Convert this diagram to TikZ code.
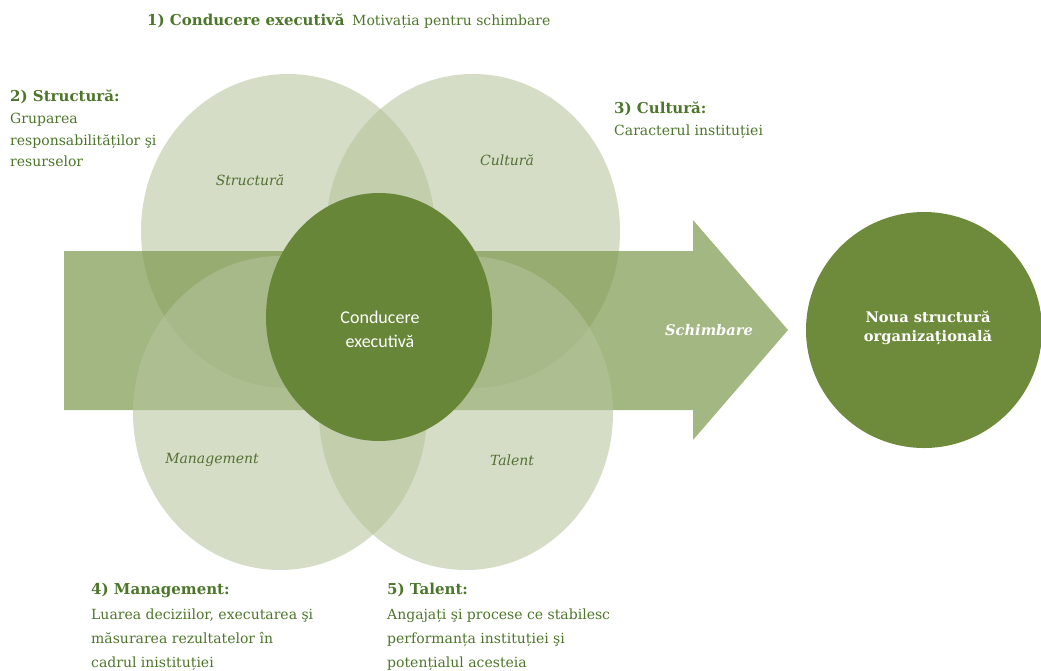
\documentclass[tikz,border=0pt]{standalone}
\usepackage{fontspec}
\setmainfont{DejaVu Serif}
\newfontfamily\calib{Carlito}
\usetikzlibrary{shapes.geometric}
\definecolor{txtg}{RGB}{76,118,42}
\definecolor{lblg}{RGB}{84,112,52}
\definecolor{lightc}{RGB}{181,195,155}
\definecolor{arrowc}{RGB}{124,152,78}
\definecolor{centerc}{RGB}{103,134,56}
\definecolor{rightc}{RGB}{110,139,60}
\tikzset{
  bigcirc/.style={ellipse, inner sep=0pt, minimum width=294pt, minimum height=314pt, fill=lightc, fill opacity=0.57},
  txt/.style={anchor=base west, inner sep=0pt, text=txtg, font=\fontsize{14}{18}\selectfont},
  hdr/.style={txt, font=\fontsize{15}{18}\selectfont\bfseries},
  clabel/.style={inner sep=0pt, text=lblg, font=\fontsize{14}{18}\selectfont\itshape},
  wlabel/.style={inner sep=0pt, text=white, align=center}
}
\begin{document}
\begin{tikzpicture}[x=1pt,y=-1pt]
\useasboundingbox (0,0) rectangle (1041,670);
% top circles
\node[bigcirc] (tl) at (288,231) {};
\node[bigcirc] (tr) at (473,231) {};
% arrow
\fill[arrowc, fill opacity=0.7] (64,251) -- (693,251) -- (693,220) -- (788,330) -- (693,440) -- (693,410) -- (64,410) -- cycle;
% bottom circles
\node[bigcirc] (bl) at (280,413) {};
\node[bigcirc] (br) at (466,413) {};
% center circle
\node[ellipse, inner sep=0pt, minimum width=226pt, minimum height=248pt, fill=centerc] (cc) at (379,317) {};
% right circle
\node[circle, inner sep=0pt, minimum size=236pt, fill=rightc] (rc) at (924,330) {};
% labels in circles
\node[clabel] (ls) at (250,180) {Structură};
\node[clabel] (lc) at (507,160) {Cultură};
\node[clabel] (lm) at (212,460) {Management};
\node[clabel] (lt) at (512,460) {Talent};
\node[wlabel, font=\calib\fontsize{18}{24}\selectfont] (lcc) at (380,329) {Conducere\\executivă};
\node[wlabel, font=\fontsize{14.6}{18}\selectfont\bfseries\itshape] (lsch) at (709,330) {Schimbare};
\node[wlabel, font=\fontsize{14.6}{19}\selectfont\bfseries] (lrc) at (928,328) {Noua structură\\organizațională};
% top text
\node[hdr] (t1) at (147,25) {1) Conducere executivă};
\node[txt] (t1b) at (352,25) {Motivația pentru schimbare};
% left text
\node[hdr] (t2) at (10,101) {2) Structură:};
\node[txt] (t2a) at (10,123) {Gruparea};
\node[txt] (t2b) at (10,145) {responsabilităților şi};
\node[txt] (t2c) at (10,166) {resurselor};
% right text
\node[hdr] (t3) at (614,113) {3) Cultură:};
\node[txt] (t3a) at (614,135) {Caracterul instituției};
% bottom left
\node[hdr] (t4) at (91,594) {4) Management:};
\node[txt] (t4a) at (91,619) {Luarea deciziilor, executarea şi};
\node[txt] (t4b) at (91,643) {măsurarea rezultatelor în};
\node[txt] (t4c) at (91,667) {cadrul inistituției};
% bottom right
\node[hdr] (t5) at (387,594) {5) Talent:};
\node[txt] (t5a) at (387,619) {Angajați şi procese ce stabilesc};
\node[txt] (t5b) at (387,643) {performanța instituției şi};
\node[txt] (t5c) at (387,667) {potențialul acesteia};
\end{tikzpicture}
\end{document}
